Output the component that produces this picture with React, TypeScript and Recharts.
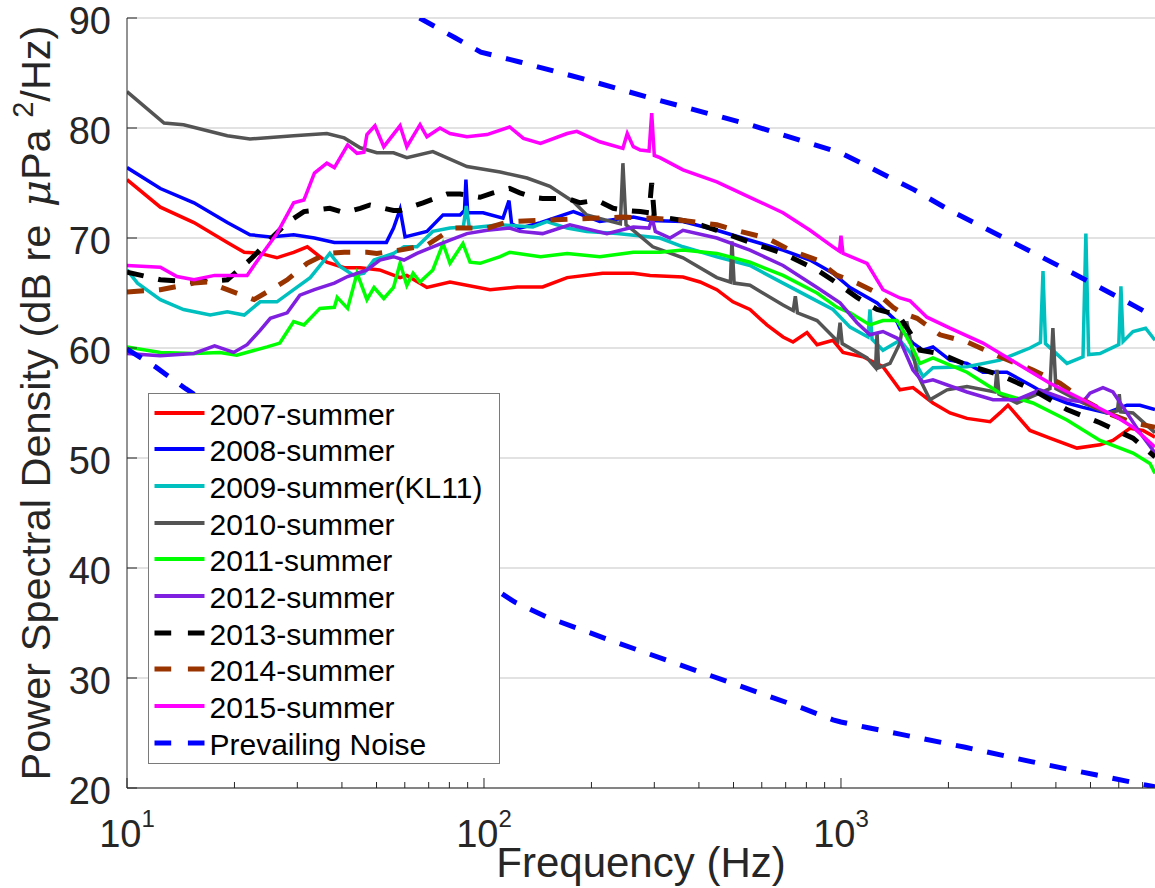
import React from 'react';
import { LineChart, Line, XAxis, YAxis, CartesianGrid, Legend } from 'recharts';

const FMAX = 7580;
const FONT = '"Liberation Sans", Arial, Helvetica, sans-serif';
const AXIS_COLOR = '#262626';

const xTicks = [10, 20, 30, 40, 50, 60, 70, 80, 90, 100, 200, 300, 400, 500, 600, 700, 800, 900, 1000, 2000, 3000, 4000, 5000, 6000, 7000];
const yTicks = [20, 30, 40, 50, 60, 70, 80, 90];

type Pair = [number, number];

// [frequency Hz, PSD dB]
const s2007: Pair[] = [[10,75.3],[12.4,72.8],[15.4,71.4],[19.1,69.6],[21.3,68.7],[23.6,68.6],[26.3,68.2],[29.3,68.7],[32,69.2],[36.3,67.8],[40.6,67.3],[45,67.3],[51,67.1],[58.2,66.4],[60.8,66.6],[69.2,65.5],[80.3,66.0],[104,65.3],[124,65.55],[146,65.55],[171,66.4],[215,66.8],[262,66.8],[292,66.6],[361,66.45],[403,66.0],[449,65.3],[498,64.2],[556,63.5],[620,62.1],[688,61.0],[734,60.55],[803,61.4],[857,60.3],[950,60.7],[1013,59.6],[1152,59.2],[1311,58.3],[1463,56.2],[1591,56.4],[1810,55.0],[2020,54.1],[2254,53.6],[2615,53.3],[2788,54.1],[2936,54.8],[3383,52.5],[3849,51.8],[4582,50.9],[5315,51.2],[5779,51.6],[6449,52.7],[7015,52.5],[7580,51.9]];

const s2008: Pair[] = [[10,76.4],[12.4,74.5],[15.4,73.2],[19.1,71.4],[22.1,70.3],[25.2,70.1],[29.3,70.3],[33.5,70.0],[38.1,69.6],[45,69.6],[53.3,69.6],[55.8,70.9],[58.2,72.6],[60.1,70.1],[69.2,70.6],[76.8,72.1],[85.7,72.1],[88.2,72.5],[89,75.3],[90,72.3],[99.4,72.3],[113,71.8],[117.5,73.4],[119.5,71.3],[126,70.9],[144,71.4],[178,72.4],[211,71.5],[262,71.9],[292,71.6],[361,71.5],[449,70.7],[556,69.8],[688,68.9],[819,68.0],[950,66.8],[1060,65.5],[1262,64.1],[1435,62.4],[1463,61.8],[1591,60.45],[1697,59.8],[1810,60.1],[2020,58.9],[2254,58.6],[2499,57.8],[2917,57.8],[3449,56.5],[3849,55.6],[4295,55.0],[4764,54.6],[5561,54.1],[6325,54.8],[6879,54.8],[7580,54.4]];

const s2009: Pair[] = [[10,67.1],[10.7,65.9],[12.4,64.4],[14.4,63.5],[17.1,63.0],[19.1,63.3],[21.3,63.0],[23.6,64.2],[26.3,64.2],[29.3,65.3],[32.6,66.4],[37,68.6],[39.6,67.4],[43.2,66.6],[46.1,66.8],[49.2,68.0],[55.8,68.6],[59.7,69.2],[64.9,69.2],[71.9,70.6],[80.3,70.9],[87.5,71.0],[89.2,72.9],[91,70.9],[111,71.2],[137,71.0],[150,71.5],[171,70.9],[194,70.6],[236,70.4],[311,70.0],[361,69.2],[449,68.3],[556,67.5],[688,65.9],[819,64.6],[950,63.5],[1060,61.9],[1190,61.0],[1206,63.5],[1222,60.8],[1311,59.8],[1463,60.7],[1561,59.6],[1697,57.4],[1810,58.2],[2254,58.3],[2788,58.9],[3383,60.0],[3620,60.5],[3681,67.0],[3740,60.4],[4295,58.6],[4764,59.2],[4853,70.4],[4940,59.4],[5315,59.5],[6000,60.3],[6084,65.6],[6170,60.6],[6577,61.5],[7135,61.8],[7580,60.7]];

const s2010: Pair[] = [[10,83.3],[12.7,80.45],[14.4,80.3],[19.1,79.3],[22.1,79.0],[29.3,79.3],[36.3,79.5],[40.6,79.1],[45,78.2],[50.1,77.75],[55.8,77.75],[60.8,77.3],[71.9,77.85],[89.6,76.5],[111,76.0],[132,75.45],[153,74.7],[178,73.3],[194,72.1],[221,71.6],[241,71.3],[245,76.8],[250,71.2],[262,70.7],[297,69.2],[361,68.2],[449,66.4],[490,66.0],[495,69.7],[502,65.9],[556,65.7],[688,63.9],[735,63.4],[745,64.7],[755,63.2],[857,62.5],[980,60.6],[994,62.3],[1008,60.4],[1183,59.1],[1250,58.2],[1262,61.4],[1275,58.2],[1372,58.6],[1463,60.45],[1492,62.3],[1531,62.3],[1633,57.7],[1775,55.3],[1982,56.2],[2254,56.5],[2700,56.0],[2735,58.0],[2770,55.8],[3112,55.0],[3850,56.3],[3923,61.8],[4000,56.3],[4764,55.0],[5561,54.1],[5950,54.3],[6020,55.8],[6080,54.2],[6577,54.1],[7580,52.3]];

const s2011: Pair[] = [[10,60.1],[12.4,59.6],[15.4,59.5],[18.2,59.6],[20.3,59.35],[24.7,60.1],[26.8,60.45],[29.3,62.4],[31.3,62.1],[34.7,63.6],[38.1,63.7],[38.8,64.6],[41.5,63.6],[44.1,66.8],[47,64.4],[49.2,65.5],[52.4,64.5],[55.8,65.5],[58.2,67.7],[60.8,65.7],[63.3,66.8],[66.2,66.0],[71.9,67.1],[76.8,69.5],[80.3,67.7],[87.3,69.5],[91.4,67.8],[97.5,67.7],[111,68.3],[118,68.7],[144,68.3],[171,68.6],[211,68.3],[262,68.7],[311,68.7],[361,68.9],[449,68.6],[556,67.8],[688,66.6],[857,65.0],[975,63.7],[1060,63.2],[1206,62.1],[1311,62.5],[1435,62.5],[1463,62.1],[1561,60.45],[1664,58.6],[1810,59.1],[2254,57.8],[2788,55.9],[3449,55.0],[4295,53.45],[5315,51.6],[6577,50.45],[7338,49.5],[7580,48.6]];

const s2012: Pair[] = [[10,59.5],[12.4,59.3],[15.4,59.5],[17.6,60.2],[19.9,59.6],[21.7,60.3],[23.6,61.6],[25.2,62.7],[28.1,63.2],[30.5,64.8],[33.5,65.3],[38.1,65.9],[41.5,66.5],[47,67.1],[51.1,68.0],[55.8,68.3],[59.7,68.0],[64.9,68.6],[71.9,69.2],[80.3,69.8],[89.6,70.4],[102,70.7],[118,70.9],[126,70.6],[146,70.4],[174,71.2],[221,70.4],[262,71.0],[290,70.9],[296,71.8],[302,70.6],[332,70.0],[361,70.7],[449,70.0],[556,68.9],[688,67.5],[857,65.5],[994,64.1],[1109,62.3],[1206,61.2],[1311,61.5],[1435,60.9],[1463,60.7],[1591,58.0],[1697,56.9],[1810,57.1],[2254,56.0],[2666,55.3],[3112,55.3],[3609,56.2],[4295,55.3],[4764,55.1],[4984,55.9],[5419,56.4],[5779,56.0],[6325,54.1],[6879,52.3],[7580,50.45]];

const s2013: Pair[] = [[10,66.9],[12.4,66.2],[15.4,66.0],[19.1,66.2],[22.1,68.0],[24.7,69.6],[28.1,71.4],[31.3,72.4],[37,72.7],[40.6,72.3],[45,72.7],[47.9,73.0],[55.8,72.5],[58.2,72.5],[67.5,73.2],[78.8,74.0],[85.7,74.0],[97.5,73.7],[106,74.1],[118,74.5],[126,74.1],[137,73.7],[146,73.6],[171,73.6],[186,73.2],[207,73.45],[230,72.7],[252,72.5],[274,72.4],[290,72.3],[295,75.0],[300,72.0],[361,71.6],[403,71.2],[449,70.7],[556,69.6],[688,68.6],[857,67.1],[975,65.9],[1109,64.6],[1262,63.5],[1372,63.2],[1463,62.8],[1561,61.4],[1664,59.8],[1894,59.5],[2254,58.45],[2788,57.55],[3449,56.2],[4295,54.4],[5315,53.2],[6577,51.8],[7580,50.1]];

const s2014: Pair[] = [[10,65.1],[12.4,65.3],[15.4,65.9],[16.75,66.0],[19.1,65.3],[22.7,64.4],[24.7,65.1],[28.1,66.2],[31.95,67.7],[36.3,68.6],[40.6,68.7],[47,68.7],[50.1,68.6],[58.2,68.9],[69.2,69.35],[81.9,70.9],[102,70.9],[118,71.5],[141,71.6],[171,71.7],[202,71.8],[245,71.9],[297,71.8],[361,71.6],[449,71.2],[521,70.6],[620,70.0],[720,68.9],[857,68.0],[975,66.6],[1109,65.9],[1262,65.0],[1399,63.7],[1463,63.3],[1541,63.0],[1633,62.7],[1894,61.2],[2254,60.55],[2788,59.2],[3449,58.0],[4106,56.8],[4764,55.3],[5561,54.1],[6577,53.2],[7580,52.8]];

const s2015: Pair[] = [[10,67.5],[12.4,67.35],[13.8,66.5],[15.4,66.2],[17.6,66.6],[21.7,66.6],[23.6,68.3],[26.3,70.4],[29.3,73.2],[31.3,73.45],[33.5,75.9],[36.3,76.8],[38.1,76.4],[41.5,78.45],[44.1,77.7],[46.1,77.8],[47,79.4],[49.5,80.2],[52.4,78.3],[58.2,80.2],[60.8,78.3],[66.2,80.3],[69.2,79.2],[75.3,80.0],[80.3,79.5],[89.6,79.2],[102,79.4],[118,80.1],[129,79.05],[144,78.6],[171,79.5],[182,79.7],[211,78.75],[245,78.15],[252,79.5],[262,78.3],[274,78.0],[290,77.9],[295,81.35],[300,77.5],[311,77.3],[361,76.2],[449,75.1],[556,73.7],[688,72.3],[819,70.7],[950,69.2],[990,68.8],[1000,70.2],[1013,68.6],[1183,67.7],[1311,65.3],[1463,64.55],[1561,64.3],[1741,62.8],[2020,61.8],[2499,60.45],[3112,58.6],[3849,56.8],[4764,55.3],[5929,53.7],[6577,52.8],[7580,51.0]];

const noiseUpper: Pair[] = [[66,90],[83,88.2],[98,86.9],[126,86.0],[193,84.4],[295,82.7],[556,80.3],[1005,77.7],[1600,74.4],[2020,72.5],[3033,69.6],[4466,66.8],[6577,63.9],[7580,62.8]];

const noiseLower: Pair[] = [[10,59.9],[12,58.3],[14.6,56.3],[122,36.9],[151,35.5],[225,33.45],[336,31.45],[509,29.4],[774,27.3],[950,26.2],[1000,26.0],[1183,25.5],[1463,24.9],[2230,23.7],[3410,22.4],[5165,21.2],[7580,20.1]];

const toPts = (a: Pair[]) => a.map(([f, v]) => ({ f, v }));

const DASH = '17 15';

const seriesStyles = [
  { key: 'a', name: '2007-summer', data: s2007, color: '#FF0000', width: 3.5, dash: undefined as string | undefined },
  { key: 'b', name: '2008-summer', data: s2008, color: '#0000FF', width: 3.5, dash: undefined },
  { key: 'c', name: '2009-summer(KL11)', data: s2009, color: '#00BFBF', width: 3.5, dash: undefined },
  { key: 'd', name: '2010-summer', data: s2010, color: '#545454', width: 3.5, dash: undefined },
  { key: 'e', name: '2011-summer', data: s2011, color: '#00FF00', width: 3.5, dash: undefined },
  { key: 'f', name: '2012-summer', data: s2012, color: '#7F1FDF', width: 3.5, dash: undefined },
  { key: 'g', name: '2013-summer', data: s2013, color: '#000000', width: 5, dash: DASH },
  { key: 'h', name: '2014-summer', data: s2014, color: '#993300', width: 5, dash: DASH },
  { key: 'i', name: '2015-summer', data: s2015, color: '#FF00FF', width: 3.5, dash: undefined },
  { key: 'j', name: 'Prevailing Noise', data: noiseUpper, color: '#0000FF', width: 5, dash: DASH },
  { key: 'k', name: 'Prevailing Noise (low)', data: noiseLower, color: '#0000FF', width: 5, dash: DASH },
];

const legendEntries = seriesStyles.slice(0, 10);

const isDecade = (v: number) => Math.abs(Math.log10(v) - Math.round(Math.log10(v))) < 1e-6;

const BottomTick = (p: any) => {
  const { x, y, payload } = p;
  const v = payload.value;
  const major = isDecade(v);
  return (
    <g>
      <line x1={x} x2={x} y1={y} y2={y - (major ? 10 : 6)} stroke={AXIS_COLOR} strokeWidth={1} />
      {major && (
        <text x={x} y={y + 59} textAnchor="middle" fill={AXIS_COLOR} fontSize={38} fontFamily={FONT}>
          10<tspan fontSize={24} dy={-20}>{Math.round(Math.log10(v))}</tspan>
        </text>
      )}
    </g>
  );
};

const TopTick = (p: any) => {
  const { x, y, payload } = p;
  const major = isDecade(payload.value);
  return <line x1={x} x2={x} y1={y} y2={y + (major ? 10 : 6)} stroke={AXIS_COLOR} strokeWidth={1} />;
};

const LeftTick = (p: any) => {
  const { x, y, payload } = p;
  return (
    <g>
      <line x1={x} x2={x + 10} y1={y} y2={y} stroke={AXIS_COLOR} strokeWidth={1} />
      <text x={x - 16} y={y + 15.5} textAnchor="end" fill={AXIS_COLOR} fontSize={38} fontFamily={FONT}>
        {payload.value}
      </text>
    </g>
  );
};

const RightTick = (p: any) => {
  const { x, y } = p;
  return <line x1={x - 10} x2={x} y1={y} y2={y} stroke={AXIS_COLOR} strokeWidth={1} />;
};

const XTitle = (p: any) => {
  const vb = p.viewBox || { x: 127, width: 1028 };
  return (
    <text x={vb.x + vb.width / 2} y={877} textAnchor="middle" fill={AXIS_COLOR} fontSize={42} fontFamily={FONT}>
      Frequency (Hz)
    </text>
  );
};

const YTitle = (p: any) => {
  const vb = p.viewBox || { y: 18, height: 770 };
  const cy = vb.y + vb.height / 2;
  return (
    <text transform={`translate(50,${cy}) rotate(-90)`} textAnchor="middle" fill={AXIS_COLOR} fontSize={41.5} fontFamily={FONT}>
      Power Spectral Density (dB re <tspan dx={6} fontStyle="italic" fontFamily='"DejaVu Serif", serif'>μ</tspan>Pa <tspan fontSize={29} dy={-17}>2</tspan><tspan dy={17}>/Hz)</tspan>
    </text>
  );
};

const LegendBox = () => (
  <div
    style={{
      width: 352,
      height: 371,
      boxSizing: 'border-box',
      border: '1.5px solid #7a7a7a',
      background: '#fff',
      position: 'relative',
      fontFamily: FONT,
    }}
  >
    {legendEntries.map((e, i) => (
      <div
        key={e.key}
        style={{ position: 'absolute', left: 0, top: 0.5 + i * 36.67, height: 36, display: 'flex', alignItems: 'center' }}
      >
        <svg width={60.5} height={36} style={{ display: 'block' }}>
          <line
            x1={5.5}
            x2={55.5}
            y1={18}
            y2={18}
            stroke={e.color}
            strokeWidth={e.dash ? 5 : 4}
            strokeDasharray={e.dash ? '16.7 16.7' : undefined}
          />
        </svg>
        <span style={{ fontSize: 30, color: '#000', lineHeight: '36px', whiteSpace: 'nowrap', position: 'relative', top: 2 }}>
          {e.name}
        </span>
      </div>
    ))}
  </div>
);

export default function App() {
  return (
    <div style={{ position: 'absolute', left: 0, top: 0, width: 1155, height: 888, background: '#fff', overflow: 'hidden' }}>
      <LineChart width={1155} height={888} margin={{ top: 18, right: 0, bottom: 0, left: 0 }} style={{ fontFamily: FONT }}>
        <CartesianGrid vertical={false} stroke="#e2e2e2" strokeWidth={2} />
        <XAxis
          type="number"
          dataKey="f"
          scale="log"
          domain={[10, FMAX]}
          allowDataOverflow
          ticks={xTicks}
          interval={0}
          tickSize={0}
          tickMargin={0}
          height={100}
          axisLine={{ stroke: AXIS_COLOR, strokeWidth: 1 }}
          tickLine={false}
          tick={<BottomTick />}
          label={<XTitle />}
        />
        <XAxis
          xAxisId="top"
          orientation="top"
          type="number"
          dataKey="f"
          scale="log"
          domain={[10, FMAX]}
          allowDataOverflow
          ticks={xTicks}
          interval={0}
          tickSize={0}
          tickMargin={0}
          height={0}
          axisLine={{ stroke: AXIS_COLOR, strokeWidth: 1 }}
          tickLine={false}
          tick={<TopTick />}
        />
        <YAxis
          type="number"
          domain={[20, 90]}
          allowDataOverflow
          ticks={yTicks}
          interval={0}
          tickSize={0}
          tickMargin={0}
          width={127}
          axisLine={{ stroke: AXIS_COLOR, strokeWidth: 1 }}
          tickLine={false}
          tick={<LeftTick />}
          label={<YTitle />}
        />
        <YAxis
          yAxisId="right"
          orientation="right"
          type="number"
          domain={[20, 90]}
          allowDataOverflow
          ticks={yTicks}
          interval={0}
          tickSize={0}
          tickMargin={0}
          width={0}
          axisLine={{ stroke: AXIS_COLOR, strokeWidth: 1 }}
          tickLine={false}
          tick={<RightTick />}
        />
        {seriesStyles.map((s) => (
          <Line
            key={s.key}
            data={toPts(s.data)}
            dataKey="v"
            name={s.name}
            type="linear"
            stroke={s.color}
            strokeWidth={s.width}
            strokeDasharray={s.dash}
            dot={false}
            activeDot={false}
            isAnimationActive={false}
            legendType="none"
          />
        ))}
        <Legend
          layout="vertical"
          align="center"
          verticalAlign="middle"
          content={<LegendBox />}
          wrapperStyle={{ left: 148, top: 393, width: 352, height: 371 }}
        />
      </LineChart>
    </div>
  );
}
